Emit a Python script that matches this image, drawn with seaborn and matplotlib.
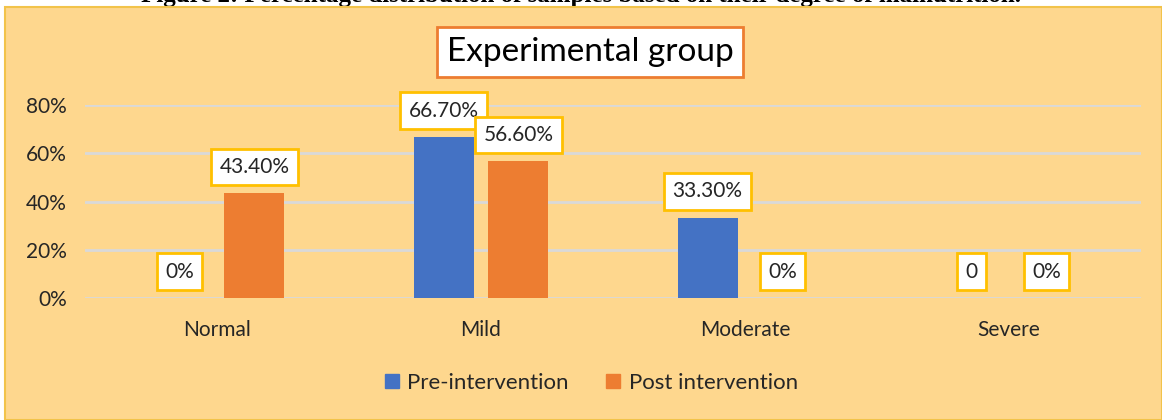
import pandas as pd
import numpy as np
import matplotlib.pyplot as plt
import seaborn as sns
from matplotlib.patches import Rectangle

# data
categories = ["Normal", "Mild", "Moderate", "Severe"]
pre_values = [0, 66.7, 33.3, 0]
post_values = [43.4, 56.6, 0, 0]
pre_labels = ["0%", "66.70%", "33.30%", "0"]
post_labels = ["43.40%", "56.60%", "0%", "0%"]
series = ["Pre-intervention", "Post intervention"]
y_ticks = [0, 20, 40, 60, 80]

df = pd.DataFrame({
    "category": categories * 2,
    "value": pre_values + post_values,
    "series": [series[0]] * 4 + [series[1]] * 4,
})

sns.set_style("white")
plt.rcParams["font.family"] = ["Lato", "DejaVu Sans"]

fig = plt.figure(figsize=(11.62, 4.2), dpi=100, facecolor="white")

# chart area background
bg = Rectangle((5 / 1162, 0), 1 - 5 / 1162, 1 - 7 / 420, transform=fig.transFigure,
               facecolor="#FED78E", edgecolor="#F2C34A", linewidth=1.5, zorder=-5)
fig.patches.append(bg)

# caption clipped at top of the image
fig.text(0.5, 1 - 2 / 420, "Figure 2: Percentage distribution of samples based on their degree of malnutrition.",
         ha="center", va="baseline", fontsize=18, fontweight="bold",
         family="Liberation Serif", color="black", zorder=-6)

ax = fig.add_axes([85 / 1162, 1 - 298 / 420, (1141 - 85) / 1162, (298 - 105) / 420])
ax.set_facecolor("none")

palette = {series[0]: "#4472C4", series[1]: "#ED7D31"}
sns.barplot(data=df, x="category", y="value", hue="series", palette=palette,
            width=0.568, gap=0.2, saturation=1, linewidth=0, ax=ax, legend=False, zorder=3)
ax.set_xlim(-0.5, 3.5)
ax.set_ylim(0, 80)

ax.set_yticks(y_ticks)
ax.set_yticklabels([f"{t}%" for t in y_ticks])
ax.yaxis.grid(True, color="#D9D9D9", linewidth=2)
ax.set_axisbelow(True)
for s in ax.spines.values():
    s.set_visible(False)
ax.set_xlabel("")
ax.set_ylabel("")
ax.tick_params(axis="both", length=0, labelsize=15, colors="#262626")
ax.tick_params(axis="x", pad=16)
ax.tick_params(axis="y", pad=13)

# value labels
for cont, labels in zip(ax.containers, [pre_labels, post_labels]):
    for bar, lab in zip(cont, labels):
        x = bar.get_x() + bar.get_width() / 2
        ax.annotate(lab, (x, bar.get_height()), xytext=(0, 19), textcoords="offset points",
                    ha="center", va="center", fontsize=15, color="#262626", zorder=5,
                    bbox=dict(boxstyle="square,pad=0.4", fc="white", ec="#FFC000", lw=2))

# title box
fig.text(0.5077, 1 - 52 / 420, "Experimental group", ha="center", va="center",
         fontsize=24, color="black",
         bbox=dict(boxstyle="square,pad=0.3", fc="white", ec="#ED7D31", lw=2))

handles = [plt.Line2D([], [], marker="s", linestyle="", markersize=10,
                      color=palette[s]) for s in series]
fig.legend(handles, series, loc="center", bbox_to_anchor=(0.508, 1 - 383 / 420), ncol=2,
           frameon=False, fontsize=16, handlelength=0.8, handletextpad=0.3,
           columnspacing=1.6, labelcolor="#262626")

fig.savefig("out.png", dpi=100, facecolor="white")
